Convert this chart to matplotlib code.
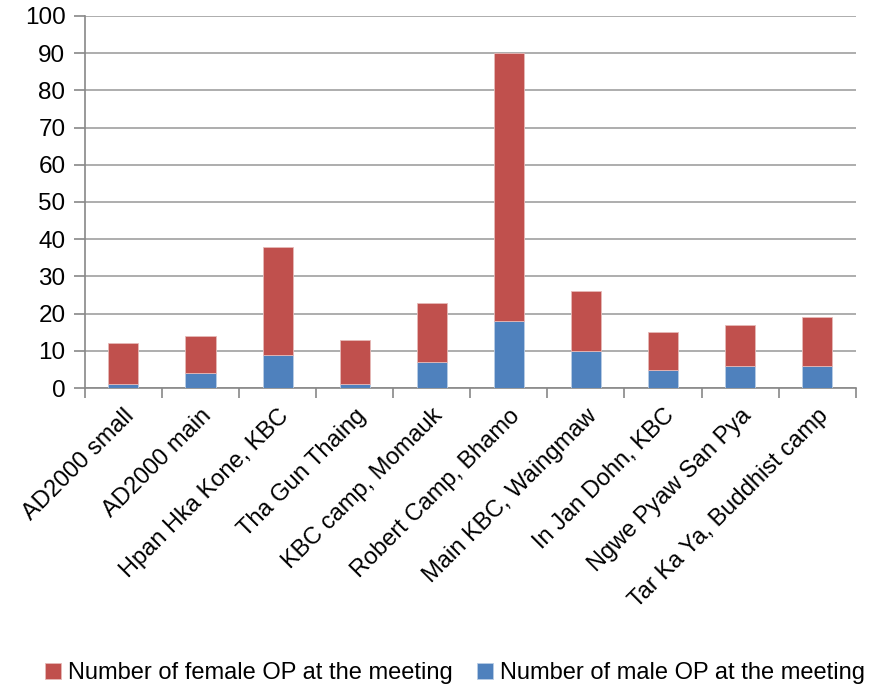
import matplotlib
matplotlib.use("Agg")
import matplotlib.pyplot as plt
import numpy as np

plt.rcParams['font.family'] = ['Liberation Sans', 'DejaVu Sans']

camps = ["AD2000 small", "AD2000 main", "Hpan Hka Kone, KBC", "Tha Gun Thaing",
         "KBC camp, Momauk", "Robert Camp, Bhamo", "Main KBC, Waingmaw",
         "In Jan Dohn, KBC", "Ngwe Pyaw San Pya", "Tar Ka Ya, Buddhist camp"]
male = [1, 4, 9, 1, 7, 18, 10, 5, 6, 6]
female = [11, 10, 29, 12, 16, 72, 16, 10, 11, 13]

fig = plt.figure(figsize=(8.75, 6.87), dpi=100)
ax = fig.add_axes([0.097, 0.435, 0.881, 0.542])

x = np.arange(len(camps))
b_male = ax.bar(x, male, width=0.39, color='#4F81BD', edgecolor='#B9CDE5', linewidth=0.6,
                label="Number of male OP at the meeting", zorder=3)
b_fem = ax.bar(x, female, width=0.39, bottom=male, color='#C0504D', edgecolor='#E6B9B8',
               linewidth=0.6, label="Number of female OP at the meeting", zorder=3)

ax.set_xlim(-0.5, len(camps) - 0.5)
ax.set_ylim(0, 100)
ax.set_yticks(range(0, 101, 10))
ax.yaxis.grid(True, color='#A0A0A0', linewidth=1.2, zorder=0)
ax.set_xticks(x)
ax.set_xticklabels(camps, rotation=45, ha='right', rotation_mode='anchor', fontsize=17)
ax.set_xticks(np.arange(-0.5, len(camps)), minor=True)
ax.tick_params(axis='x', which='major', length=0, pad=12)
ax.tick_params(axis='x', which='minor', length=7, color='#888888', width=1.2)
ax.tick_params(axis='y', labelsize=17.5, length=8, color='#888888', width=1.2, pad=6)
for s in ['top', 'right']:
    ax.spines[s].set_visible(False)
for s in ['left', 'bottom']:
    ax.spines[s].set_color('#888888')
    ax.spines[s].set_linewidth(1.2)

fig.legend([b_fem, b_male],
           ["Number of female OP at the meeting", "Number of male OP at the meeting"],
           loc='center', bbox_to_anchor=(0.52, 0.02), ncol=2, frameon=False,
           fontsize=17, handlelength=0.7, handleheight=0.7, handletextpad=0.3,
           columnspacing=1.0)

fig.savefig("out.png", dpi=100)
